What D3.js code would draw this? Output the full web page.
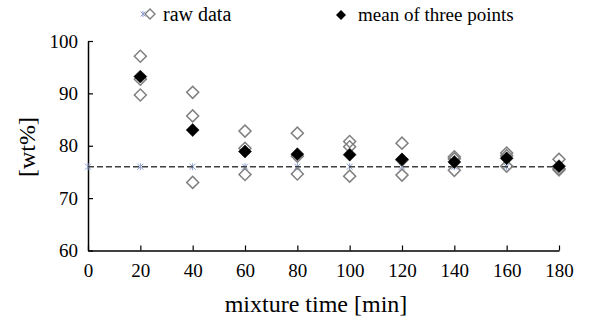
<!DOCTYPE html>
<html>
<head>
<meta charset="utf-8">
<script src="https://cdn.jsdelivr.net/npm/d3@7"></script>
<style>
  body { margin: 0; background: #fff; }
</style>
</head>
<body>
<svg id="chart" width="589" height="333"></svg>
<script>
// mixture times [min]
const times = [20, 40, 60, 80, 100, 120, 140, 160, 180];
// three raw measurements per time [wt%]
const raw1 = [97.1, 90.2, 82.8, 82.4, 80.8, 80.5, 77.9, 78.6, 77.4];
const raw2 = [92.7, 85.7, 79.5, 78.0, 79.8, 77.3, 77.5, 78.1, 75.6];
const raw3 = [89.7, 73.0, 74.5, 74.6, 74.2, 74.4, 75.3, 76.1, 75.4];
// mean of three points
const means = [93.2, 83.0, 78.9, 78.4, 78.3, 77.4, 76.9, 77.6, 76.1];
// reference level
const refTimes = [0, 20, 40, 60, 80, 100, 120, 140, 160, 180];
const refValue = 76;
const xTicks = [0, 20, 40, 60, 80, 100, 120, 140, 160, 180];
const yTicks = [60, 70, 80, 90, 100];

var serif = "'Liberation Serif', 'Times New Roman', serif";
var svg = d3.select("#chart").style("font-family", serif);
var x = d3.scaleLinear().domain([0, 180]).range([88, 559]);
var y = d3.scaleLinear().domain([60, 100]).range([250.5, 41]);

// axes, ticks pointing inward
var xAxis = d3.axisBottom(x).tickValues(xTicks).tickSizeInner(-5).tickSizeOuter(0).tickPadding(13);
var yAxis = d3.axisLeft(y).tickValues(yTicks).tickSizeInner(-5).tickSizeOuter(0).tickPadding(10);

function styleAxis(g) {
  g.attr("font-family", null).attr("font-size", null);
  g.select(".domain").attr("stroke-width", 1.5);
  g.selectAll(".tick line").attr("stroke-width", 1.2);
  g.selectAll("text").style("font-family", serif).style("font-size", "19px");
}
svg.append("g").attr("transform", "translate(0," + y(60) + ")").call(xAxis).call(styleAxis);
svg.append("g").attr("transform", "translate(" + x(0) + ",0)").call(yAxis).call(styleAxis);

// axis titles
svg.append("text")
  .attr("x", 316).attr("y", 312)
  .attr("text-anchor", "middle")
  .style("font-family", serif).style("font-size", "24px")
  .text("mixture time [min]");
svg.append("text")
  .attr("transform", "translate(35,147) rotate(-90)")
  .attr("text-anchor", "middle")
  .style("font-family", serif).style("font-size", "24px")
  .text("[wt%]");

var diamond = d3.symbol().type(d3.symbolSquare);
var star = "M-3,-3L3,3M-3,3L3,-3M0,-3.5L0,3.5";

// reference line with asterisk markers
svg.append("g").selectAll("path")
  .data(refTimes).enter().append("path")
  .attr("d", star)
  .attr("transform", d => "translate(" + x(d) + "," + y(refValue) + ")")
  .attr("fill", "none").attr("stroke", "#8da0d0").attr("stroke-width", 1);

svg.append("path")
  .datum(refTimes)
  .attr("d", d3.line().x(d => x(d)).y(() => y(refValue)))
  .attr("fill", "none")
  .attr("stroke", "#404040")
  .attr("stroke-width", 1.6)
  .attr("stroke-dasharray", "6,3");

// raw data
[raw1, raw2, raw3].forEach(series => {
  svg.append("g").selectAll("path")
    .data(series).enter().append("path")
    .attr("d", diamond.size(72)())
    .attr("transform", (d, i) => "translate(" + x(times[i]) + "," + y(d) + ") rotate(45)")
    .attr("fill", "none").attr("stroke", "#808080").attr("stroke-width", 1.5);
});

// means
svg.append("g").selectAll("path")
  .data(means).enter().append("path")
  .attr("d", diamond.size(84)())
  .attr("transform", (d, i) => "translate(" + x(times[i]) + "," + y(d) + ") rotate(45)")
  .attr("fill", "#000").attr("stroke", "#000").attr("stroke-width", 0.5);

// legend
var leg = svg.append("g");
leg.append("path").attr("d", "M-2.5,-2.5L2.5,2.5M-2.5,2.5L2.5,-2.5M0,-3L0,3")
  .attr("transform", "translate(143,14)")
  .attr("fill", "none").attr("stroke", "#8da0d0").attr("stroke-width", 1);
leg.append("path").attr("d", diamond.size(50)())
  .attr("transform", "translate(150,14) rotate(45)")
  .attr("fill", "none").attr("stroke", "#808080").attr("stroke-width", 1.4);
leg.append("text").attr("x", 163).attr("y", 21)
  .style("font-family", serif).style("font-size", "20px").text("raw data");
leg.append("path").attr("d", diamond.size(50)())
  .attr("transform", "translate(341,15) rotate(45)")
  .attr("fill", "#000");
leg.append("text").attr("x", 358).attr("y", 21)
  .style("font-family", serif).style("font-size", "19px").text("mean of three points");
</script>
</body>
</html>
